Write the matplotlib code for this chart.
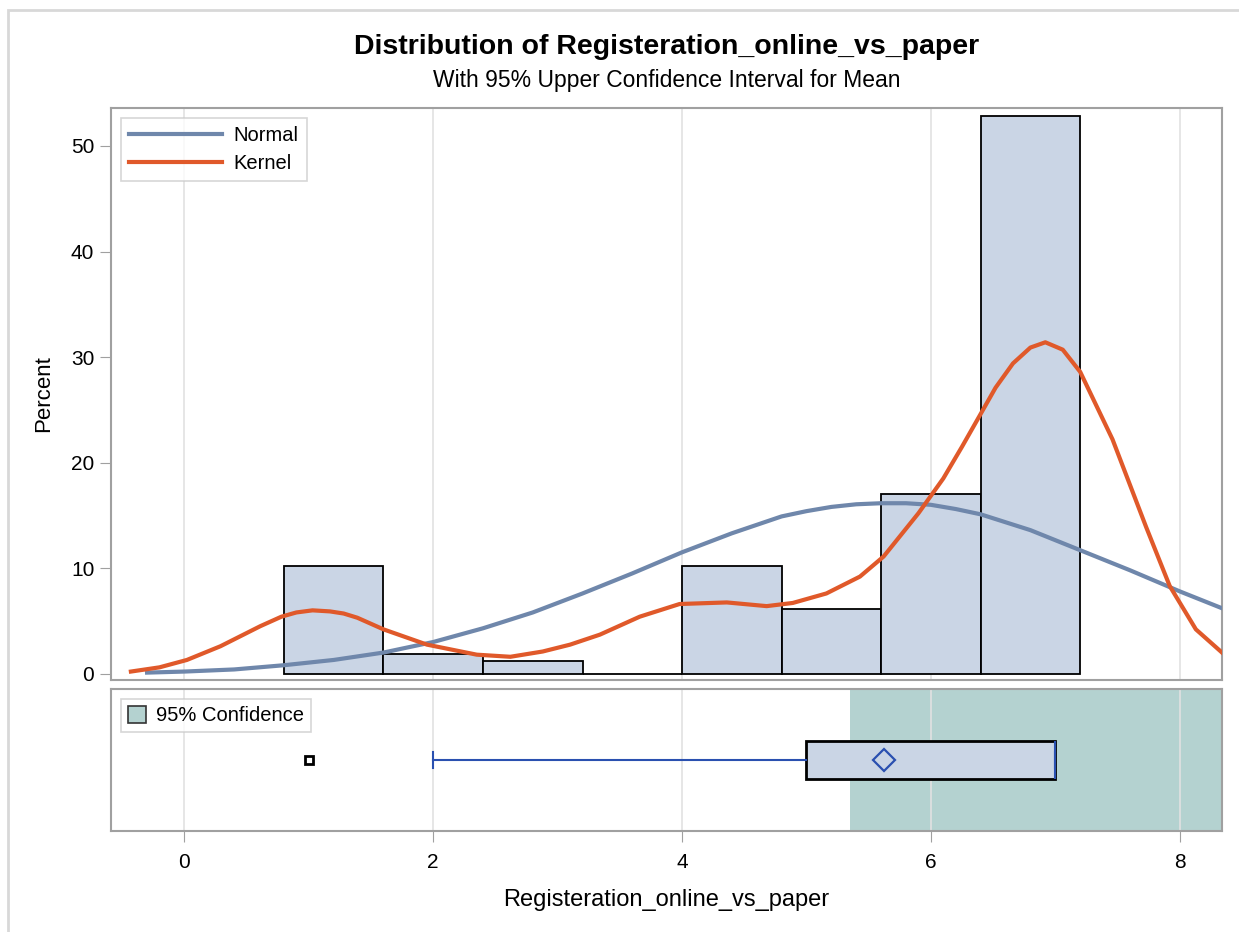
import numpy as np
import matplotlib.pyplot as plt
from matplotlib.patches import Patch, Rectangle
from matplotlib.lines import Line2D

# ---------------------------------------------------
# data
# ---------------------------------------------------
bin_left = [0.8, 1.6, 2.4, 3.2, 4.0, 4.8, 5.6, 6.4]
bin_width = 0.8
percent = [10.2, 1.9, 1.2, 0.0, 10.2, 6.1, 17.0, 52.8]

normal_x = [-0.3, 0.0, 0.4, 0.8, 1.2, 1.6, 2.0, 2.4, 2.8, 3.2, 3.6, 4.0,
            4.4, 4.8, 5.0, 5.2, 5.4, 5.6, 5.8, 6.0, 6.2, 6.4, 6.8, 7.2,
            7.6, 8.0, 8.34]
normal_y = [0.1, 0.2, 0.4, 0.8, 1.3, 2.0, 3.0, 4.3, 5.8, 7.6, 9.5, 11.5,
            13.3, 14.9, 15.4, 15.8, 16.05, 16.15, 16.15, 16.0, 15.6, 15.1,
            13.6, 11.7, 9.8, 7.8, 6.2]

kernel_x = [-0.43, -0.2, 0.02, 0.29, 0.61, 0.78, 0.9, 1.03, 1.17, 1.28, 1.39,
            1.6, 1.95, 2.35, 2.62, 2.88, 3.1, 3.34, 3.66, 3.98, 4.36, 4.68,
            4.89, 5.16, 5.43, 5.62, 5.9, 6.1, 6.25, 6.39, 6.52, 6.66, 6.8,
            6.92, 7.06, 7.2, 7.46, 7.73, 7.92, 8.13, 8.34]
kernel_y = [0.2, 0.6, 1.3, 2.6, 4.5, 5.4, 5.8, 6.0, 5.9, 5.7, 5.3,
            4.2, 2.75, 1.8, 1.6, 2.1, 2.75, 3.7, 5.4, 6.6, 6.75, 6.4,
            6.7, 7.6, 9.2, 11.1, 15.2, 18.5, 21.5, 24.4, 27.1, 29.4, 30.9,
            31.4, 30.7, 28.6, 22.2, 13.9, 8.3, 4.2, 2.0]

whisker_low = 2.0
q1 = 5.0
median = 7.0
q3 = 7.0
whisker_high = 7.0
mean_val = 5.62
outliers = [1.0]
ci_lower = 5.35

# ---------------------------------------------------
# style
# ---------------------------------------------------
plt.rcParams['font.family'] = ['Liberation Sans', 'DejaVu Sans']
bar_fill = '#cad5e5'
normal_col = '#6f87ab'
kernel_col = '#e0592a'
ci_col = '#b4d2d0'
box_blue = '#2a50b0'
spine_col = '#a0a0a0'
grid_col = '#e1e1e1'

xlim = (-0.59, 8.34)

fig = plt.figure(figsize=(12.39, 9.32), dpi=100)
W, H = 1239, 932

def px_axes(l, t, r, b):
    return fig.add_axes([l / W, 1 - b / H, (r - l) / W, (b - t) / H])

ax = px_axes(111, 108, 1222, 680)
ax2 = px_axes(111, 689, 1222, 831)

# ---------------- histogram panel ----------------
ax.bar(bin_left, percent, width=bin_width, align='edge', color=bar_fill,
       edgecolor='black', linewidth=1.3, zorder=2)
ax.plot(normal_x, normal_y, color=normal_col, lw=3, zorder=3,
        solid_joinstyle='round')
ax.plot(kernel_x, kernel_y, color=kernel_col, lw=3, zorder=4,
        solid_joinstyle='round')

ax.set_xlim(*xlim)
ax.set_ylim(-0.6, 53.6)
ax.set_yticks([0, 10, 20, 30, 40, 50])
ax.set_xticks([0, 2, 4, 6, 8])
ax.tick_params(axis='x', length=0, labelbottom=False)
ax.tick_params(axis='y', length=8, color=spine_col, labelsize=15, pad=4)
ax.grid(axis='x', color=grid_col, lw=1.2)
ax.set_axisbelow(True)
ax.set_ylabel('Percent', fontsize=16, labelpad=12)
for s in ax.spines.values():
    s.set_color(spine_col)
    s.set_linewidth(1.5)

handles = [Line2D([], [], color=normal_col, lw=3),
           Line2D([], [], color=kernel_col, lw=3)]
leg = ax.legend(handles, ['Normal', 'Kernel'], loc='upper left',
                fontsize=14.5, frameon=True, fancybox=False,
                edgecolor='#cccccc', handlelength=4.6, borderaxespad=0.5,
                labelspacing=0.45, borderpad=0.4, handletextpad=0.6)
leg.get_frame().set_linewidth(1.2)

# ---------------- box plot panel ----------------
ax2.axvspan(ci_lower, xlim[1], color=ci_col, zorder=0.2, lw=0)
stats = [dict(whislo=whisker_low, q1=q1, med=median, q3=q3,
              whishi=whisker_high, mean=mean_val, fliers=outliers)]
ax2.bxp(stats, positions=[0.5], widths=[0.27], capwidths=[0.11],
        orientation='horizontal', showmeans=True, patch_artist=True,
        boxprops=dict(facecolor=bar_fill, edgecolor='black', linewidth=2),
        whiskerprops=dict(color=box_blue, linewidth=1.5),
        capprops=dict(color=box_blue, linewidth=1.5),
        medianprops=dict(color=box_blue, linewidth=1.5),
        meanprops=dict(marker='D', markersize=11, markerfacecolor='none',
                       markeredgecolor=box_blue, markeredgewidth=1.6),
        flierprops=dict(marker='s', markersize=6, markerfacecolor='white',
                        markeredgecolor='black', markeredgewidth=2),
        manage_ticks=False)
ax2.set_xlim(*xlim)
ax2.set_ylim(0, 1)
ax2.set_yticks([])
ax2.set_xticks([0, 2, 4, 6, 8])
ax2.tick_params(axis='x', length=8, color=spine_col, labelsize=15, pad=8)
ax2.grid(axis='x', color=grid_col, lw=1.2)
ax2.set_axisbelow(True)
ax2.set_xlabel('Registeration_online_vs_paper', fontsize=17, labelpad=12)
for s in ax2.spines.values():
    s.set_color(spine_col)
    s.set_linewidth(1.5)

leg2 = ax2.legend([Patch(facecolor=ci_col, edgecolor='#333333', lw=1.2)],
                  ['95% Confidence'], loc='upper left', fontsize=14.5,
                  frameon=True, fancybox=False, edgecolor='#cccccc',
                  handlelength=0.9, handleheight=0.9, borderaxespad=0.5,
                  borderpad=0.35, handletextpad=0.5)
leg2.get_frame().set_linewidth(1.2)

# ---------------- titles and outer frame ----------------
cx = (111 + 1222) / 2 / W
fig.text(cx, 1 - 47 / H, 'Distribution of Registeration_online_vs_paper',
         ha='center', va='center', fontsize=20.5, fontweight='bold')
fig.text(cx, 1 - 80 / H, 'With 95% Upper Confidence Interval for Mean',
         ha='center', va='center', fontsize=16.5)

fig.patches.append(Rectangle((8 / W, -0.1), 1.1, 1 - 10 / H + 0.1,
                             transform=fig.transFigure, fill=False,
                             edgecolor='#d8d8d8', lw=2))

fig.savefig('out.png', dpi=100)
